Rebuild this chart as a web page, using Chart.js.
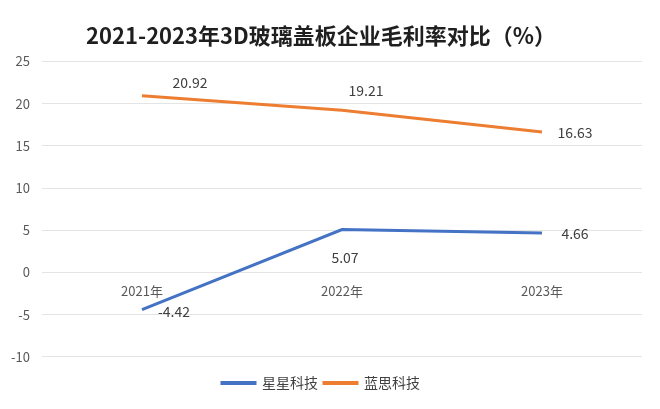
<!DOCTYPE html>
<html>
<head>
<meta charset="utf-8">
<script src="https://cdn.jsdelivr.net/npm/chart.js@4"></script>
<style>
  html, body { margin: 0; padding: 0; background: #fff; }
  canvas { display: block; }
</style>
</head>
<body>
<canvas id="chart" width="660" height="409"></canvas>
<script>
// data
const years = ['2021年', '2022年', '2023年'];
const xingxing = [-4.42, 5.07, 4.66];
const lansi = [20.92, 19.21, 16.63];
const yTicks = [-10, -5, 0, 5, 10, 15, 20, 25];

// label offsets (px) relative to each point
const labelOffsets = [
  [[32, 2], [3, 28], [33, 1]],
  [[48, -13], [24, -20], [33, 1]]
];

const valueLabels = {
  id: 'valueLabels',
  afterDatasetsDraw(chart) {
    const ctx = chart.ctx;
    ctx.save();
    ctx.font = '14px "Noto Sans CJK SC", "Open Sans", sans-serif';
    ctx.fillStyle = '#404040';
    ctx.textAlign = 'center';
    ctx.textBaseline = 'middle';
    chart.data.datasets.forEach((ds, i) => {
      chart.getDatasetMeta(i).data.forEach((pt, j) => {
        const off = labelOffsets[i][j];
        ctx.fillText(ds.data[j].toFixed(2), pt.x + off[0], pt.y + off[1]);
      });
    });
    ctx.restore();
  }
};

new Chart(document.getElementById('chart').getContext('2d'), {
  type: 'line',
  data: {
    labels: years,
    datasets: [{
      label: '星星科技',
      data: xingxing,
      borderColor: '#4472C4',
      backgroundColor: '#4472C4',
      borderWidth: 3,
      pointRadius: 0,
      tension: 0
    }, {
      label: '蓝思科技',
      data: lansi,
      borderColor: '#ED7D31',
      backgroundColor: '#ED7D31',
      borderWidth: 3,
      pointRadius: 0,
      tension: 0
    }]
  },
  options: {
    responsive: false,
    animation: false,
    layout: { padding: { left: 0, right: 18, top: 0, bottom: 9 } },
    plugins: {
      title: {
        display: true,
        text: '2021-2023年3D玻璃盖板企业毛利率对比（%）',
        color: '#1f1f1f',
        font: { size: 22, weight: 'bold', family: '"Noto Sans CJK SC", sans-serif' },
        padding: { top: 22, bottom: 13 }
      },
      legend: {
        position: 'bottom',
        title: { display: true, text: '', font: { size: 1 }, padding: { top: 12, bottom: 0 } },
        labels: {
          boxWidth: 33,
          boxHeight: 1,
          padding: 6,
          color: '#404040',
          font: { size: 14, family: '"Noto Sans CJK SC", sans-serif' }
        }
      },
      tooltip: { enabled: false }
    },
    scales: {
      x: {
        position: { y: 0 },
        offset: true,
        grid: { display: false },
        border: { display: false },
        ticks: {
          padding: 3,
          color: '#595959',
          font: { size: 13, family: '"Noto Sans CJK SC", sans-serif' }
        }
      },
      y: {
        min: -10,
        max: 25,
        afterBuildTicks: s => { s.ticks = yTicks.map(v => ({ value: v })); },
        afterFit: s => { s.width = 42; },
        grid: { color: '#e4e4e4', drawTicks: false },
        border: { display: false },
        ticks: {
          padding: 12,
          color: '#595959',
          font: { size: 13, family: '"Noto Sans CJK SC", "Open Sans", sans-serif' }
        }
      }
    }
  },
  plugins: [valueLabels]
});
</script>
</body>
</html>
